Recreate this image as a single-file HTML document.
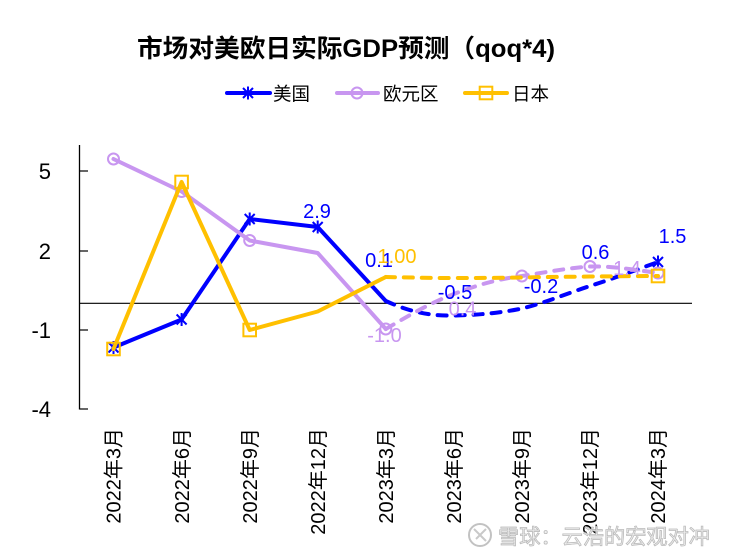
<!DOCTYPE html>
<html>
<head>
<meta charset="utf-8">
<style>
  html, body { margin: 0; padding: 0; background: #ffffff; }
  svg { display: block; }
  text { font-family: "Liberation Sans", "Noto Sans CJK SC", sans-serif; }
</style>
</head>
<body>
<svg width="732" height="557" viewBox="0 0 732 557" xmlns="http://www.w3.org/2000/svg">
  <defs>
    <g id="ast">
      <path d="M-5,-5 L5,5 M-5,5 L5,-5 M0,-6.5 L0,6.5" stroke="#0000FF" stroke-width="2" fill="none"/>
    </g>
    <g id="circ">
      <circle cx="0" cy="0" r="5.5" stroke="#C896F0" stroke-width="2" fill="none"/>
    </g>
    <g id="sq">
      <rect x="-6.3" y="-6.3" width="12.6" height="12.6" stroke="#FFC000" stroke-width="2" fill="none"/>
    </g>
  </defs>
  <rect width="732" height="557" fill="#ffffff"/>

  <!-- Title -->
  <text x="137" y="57" font-size="25" font-weight="bold" fill="#000" textLength="418" lengthAdjust="spacingAndGlyphs">市场对美欧日实际GDP预测（qoq*4)</text>

  <!-- Legend -->
  <line x1="227" y1="93" x2="270" y2="93" stroke="#0000FF" stroke-width="4" stroke-linecap="round"/>
  <use href="#ast" x="248" y="93"/>
  <text x="273" y="100.5" font-size="18.5" fill="#000">美国</text>

  <line x1="337" y1="93" x2="378" y2="93" stroke="#C896F0" stroke-width="4" stroke-linecap="round"/>
  <use href="#circ" x="357" y="93"/>
  <text x="383" y="100.5" font-size="18.5" fill="#000">欧元区</text>

  <line x1="465" y1="93" x2="507" y2="93" stroke="#FFC000" stroke-width="4" stroke-linecap="round"/>
  <use href="#sq" x="486" y="93"/>
  <text x="512" y="100.5" font-size="18.5" fill="#000">日本</text>

  <!-- Y axis -->
  <line x1="79.5" y1="145" x2="79.5" y2="409.5" stroke="#000" stroke-width="1.3"/>
  <line x1="79.5" y1="171" x2="88" y2="171" stroke="#000" stroke-width="1.2"/>
  <line x1="79.5" y1="251" x2="88" y2="251" stroke="#000" stroke-width="1.2"/>
  <line x1="79.5" y1="330" x2="88" y2="330" stroke="#000" stroke-width="1.2"/>
  <line x1="79.5" y1="409" x2="88" y2="409" stroke="#000" stroke-width="1.2"/>
  <g font-size="22" fill="#000" text-anchor="end">
    <text x="51" y="179">5</text>
    <text x="51" y="259">2</text>
    <text x="51" y="338">-1</text>
    <text x="51" y="417">-4</text>
  </g>

  <!-- Zero line -->
  <line x1="79.5" y1="303.3" x2="692" y2="303.3" stroke="#000" stroke-width="1.2"/>

  <!-- X labels -->
  <g font-size="20" fill="#000" text-anchor="end">
    <text transform="translate(120.7,428) rotate(-90)">2022年3月</text>
    <text transform="translate(188.8,428) rotate(-90)">2022年6月</text>
    <text transform="translate(256.9,428) rotate(-90)">2022年9月</text>
    <text transform="translate(324.9,428) rotate(-90)">2022年12月</text>
    <text transform="translate(393,428) rotate(-90)">2023年3月</text>
    <text transform="translate(461.1,428) rotate(-90)">2023年6月</text>
    <text transform="translate(529.1,428) rotate(-90)">2023年9月</text>
    <text transform="translate(597.2,428) rotate(-90)">2023年12月</text>
    <text transform="translate(665.2,428) rotate(-90)">2024年3月</text>
  </g>

  <!-- US series -->
  <path d="M113.5,347.5 L181.6,319.5 L249.7,219 L317.7,227 L385.8,301" stroke="#0000FF" stroke-width="4" fill="none" stroke-linejoin="round" stroke-linecap="round"/>
  <path d="M385.8,301 C410,312 430,316 453.9,315.5 C478,315 500,313 521.9,308.5 C545,303 568,293 590,286 C612,279 636,270 658,262" stroke="#0000FF" stroke-width="4" fill="none" stroke-dasharray="9 9" stroke-linecap="round"/>
  <use href="#ast" x="113.5" y="347.5"/>
  <use href="#ast" x="181.6" y="319.5"/>
  <use href="#ast" x="249.7" y="219"/>
  <use href="#ast" x="317.7" y="227"/>
  <use href="#ast" x="658" y="262"/>

  <!-- Euro series -->
  <path d="M113.5,159 L181.6,191.5 L249.7,240.5 L317.7,253 L385.8,329" stroke="#C896F0" stroke-width="4" fill="none" stroke-linejoin="round" stroke-linecap="round"/>
  <path d="M385.8,329 C408,316 430,303 453.9,294 C477,285 498,279 521.9,276 C545,272.5 567,268 590,266.5 C613,266 636,270 658,273" stroke="#C896F0" stroke-width="4" fill="none" stroke-dasharray="9 9" stroke-linecap="round"/>
  <use href="#circ" x="113.5" y="159"/>
  <use href="#circ" x="181.6" y="191.5"/>
  <use href="#circ" x="249.7" y="240.5"/>
  <use href="#circ" x="385.8" y="329"/>
  <use href="#circ" x="521.9" y="276"/>
  <use href="#circ" x="590" y="266.5"/>
  <use href="#circ" x="658" y="273"/>

  <!-- Japan series -->
  <path d="M113.5,349 L181.6,182 L249.7,330 L317.7,311.5 L385.8,277" stroke="#FFC000" stroke-width="4" fill="none" stroke-linejoin="round" stroke-linecap="round"/>
  <path d="M385.8,277 C410,277.5 430,278 453.9,278 C478,278 500,277.8 521.9,277.5 C545,277 567,276.8 590,276.5 C613,276.3 636,276.1 658,276" stroke="#FFC000" stroke-width="4" fill="none" stroke-dasharray="9 9" stroke-linecap="round"/>
  <use href="#sq" x="113.5" y="349"/>
  <use href="#sq" x="181.6" y="182"/>
  <use href="#sq" x="249.7" y="330"/>
  <use href="#sq" x="658" y="276"/>

  <!-- Data labels -->
  <g font-size="20" text-anchor="middle">
    <text x="317" y="218" fill="#0000FF">2.9</text>
    <text x="379" y="267" fill="#0000FF">0.1</text>
    <text x="397" y="263" fill="#FFC000">1.00</text>
    <text x="455" y="299" fill="#0000FF">-0.5</text>
    <text x="462.5" y="315.5" fill="#C896F0">0.4</text>
    <text x="541" y="293" fill="#0000FF">-0.2</text>
    <text x="595.5" y="259" fill="#0000FF">0.6</text>
    <text x="627" y="275" fill="#C896F0">1.4</text>
    <text x="672.5" y="243" fill="#0000FF">1.5</text>
    <text x="384.5" y="342" fill="#C896F0">-1.0</text>
  </g>

  <!-- Watermark -->
  <g opacity="0.9">
    <circle cx="480" cy="535" r="11" fill="none" stroke="#bcbcbc" stroke-width="2"/>
    <path d="M474,529 L486,541 M486,529 L476,539" stroke="#c4c4c4" stroke-width="2" fill="none"/>
    <text x="498" y="544" font-size="21" fill="#eeeeee" stroke="#b4b4b4" stroke-width="0.8" textLength="212" lengthAdjust="spacingAndGlyphs">雪球：云浩的宏观对冲</text>
  </g>
</svg>
</body>
</html>
